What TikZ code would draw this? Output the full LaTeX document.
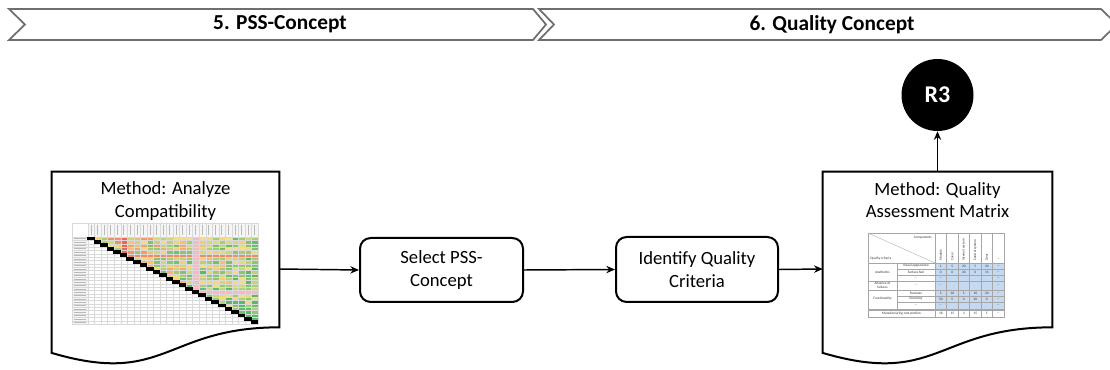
\documentclass[tikz,border=0pt]{standalone}
\usepackage{fontspec}
\setmainfont{Carlito}
\usetikzlibrary{calc,arrows.meta}
\definecolor{hmG}{RGB}{90,185,110}
\definecolor{hmY}{RGB}{250,225,120}
\definecolor{hmR}{RGB}{238,100,90}
\definecolor{hmP}{RGB}{244,185,196}
\definecolor{tblue}{RGB}{197,217,241}
\definecolor{chev}{RGB}{110,110,110}
\begin{document}
\begin{tikzpicture}[x=0.75pt,y=-0.75pt,
  chevron/.style={draw=chev,line width=1.3pt,fill=white,line join=miter},
  chevlabel/.style={font=\bfseries\fontsize{16}{19}\selectfont},
  docline/.style={draw=black,line width=1.5pt,fill=white,line join=miter},
  doctitle/.style={align=center,font=\fontsize{14}{17}\selectfont},
  stepbox/.style={draw,line width=1.5pt,rounded corners=8pt,align=center,
    font=\fontsize{14}{17}\selectfont,inner sep=0pt},
  arr/.style={line width=1.1pt,-{Stealth[length=6.5pt,width=5.5pt]}},
  tline/.style={draw=gray!70,line width=0.25pt},
  ttxt/.style={font=\fontsize{2.6}{3}\selectfont,inner sep=0pt,text=black!80},
  gridl/.style={draw=gray!30,line width=0.2pt}]
\useasboundingbox (0,0) rectangle (1110,370);

% ---------- chevrons ----------
\draw[chevron] (9,9) -- (533,9) -- (546,24.5) -- (533,40) -- (9,40) -- (25,24.5) -- cycle;
\draw[chevron] (539,9) -- (1101,9) -- (1117,24.5) -- (1101,40) -- (539,40) -- (554,24.5) -- cycle;
\node[chevlabel] (ph5) at (280,24.5) {5. PSS-Concept};
\node[chevlabel] (ph6) at (832,24.5) {6. Quality Concept};

% ---------- document 1 ----------
\node[minimum width=170.25pt,minimum height=145.5pt,inner sep=0pt] (doc1) at (165.5,269) {};
\path[docline] (doc1.north west) -- (doc1.north east) -- ($(doc1.north east)+(0,155.6)$)
  .. controls ($(doc1.north)+(0,155.6)$) and ($(doc1.north)+(0,214.9)$) .. ($(doc1.north west)+(0,181.2)$) -- cycle;
\node[doctitle] (t1) at (165.5,201) {Method: Analyze\\Compatibility};

% heatmap
\fill[gray!8] (72,223) rectangle (258,237);
\fill[gray!8] (72,237) rectangle (88,324);
\fill[white] (72,223) rectangle (88,237);
\foreach \k in {0,...,25}{
  \draw[gray!55,line width=0.4pt] (91+\k*6.538,225) -- (91+\k*6.538,235.5);
  \draw[gray!55,line width=0.4pt] (73.5,238.7+\k*3.346) -- (86,238.7+\k*3.346);
}
\pgfmathsetseed{5}
\foreach \i in {0,...,25}{
  \foreach \j in {0,...,25}{
    \ifnum\j>\i
      \pgfmathtruncatemacro\v{max(0,min(100,rnd*70+10+1.6*\i+0.9*(\j-\i)))}
      \ifnum\v>50
        \pgfmathtruncatemacro\w{2*(\v-50)}\edef\cc{hmG!\w!hmY}
      \else
        \pgfmathtruncatemacro\w{2*\v}\edef\cc{hmY!\w!hmR}
      \fi
      \ifnum\i=5 \edef\cc{hmR!70!hmY}\fi
      \ifnum\j=5 \edef\cc{hmR}\fi
      \ifnum\j=16 \edef\cc{hmP}\fi
      \ifnum\i=16 \edef\cc{hmP}\fi
      \fill[fill=\cc] (88+\j*6.538,237+\i*3.346) rectangle ++(6.538,3.346);
    \fi
  }
}
\foreach \k in {0,...,26}{
  \draw[gridl] (88+\k*6.538,223) -- (88+\k*6.538,324);
  \draw[gridl] (72,237+\k*3.346) -- (258,237+\k*3.346);
}
\draw[gridl] (72,223) rectangle (258,324);
\foreach \i in {0,...,25}{
  \fill[black] (88+\i*6.538-0.8,237+\i*3.346-0.4) rectangle ++(7.6,3.9);
}

% ---------- process boxes ----------
\node[stepbox,minimum width=122.25pt,minimum height=48pt] (sel) at (441.5,270) {Select PSS-\\Concept};
\node[stepbox,minimum width=121.5pt,minimum height=48.75pt] (idf) at (697,269.5) {Identify Quality\\Criteria};

% ---------- document 2 ----------
\node[minimum width=171.75pt,minimum height=145.5pt,inner sep=0pt] (doc2) at (937.5,269) {};
\path[docline] (doc2.north west) -- (doc2.north east) -- ($(doc2.north east)+(0,155.6)$)
  .. controls ($(doc2.north)+(0,155.6)$) and ($(doc2.north)+(0,214.9)$) .. ($(doc2.north west)+(0,181.2)$) -- cycle;
\node[doctitle] (t2) at (937.5,200) {Method: Quality\\Assessment Matrix};

% quality table
\fill[tblue] (935,263) rectangle (1004,309);
\draw[tline] (868,233) rectangle (1004,317);
\draw[tline] (868,233) -- (935,263);
\draw[tline] (868,263) -- (1004,263);
\foreach \x in {935,946.5,958,969.5,981,992.5}{\draw[tline] (\x,233) -- (\x,317);}
\draw[tline] (897,263) -- (897,309);
\foreach \y in {269,275,296,302}{\draw[tline] (897,\y) -- (1004,\y);}
\foreach \y in {281,290,309,310}{\draw[tline] (868,\y) -- (1004,\y);}
\node[ttxt,anchor=north east] (hc) at (932,236) {Components};
\node[ttxt,anchor=south west] (hq) at (870,260) {Quality criteria};
\foreach \x/\t in {940.75/Module,952.25/Cover,963.75/Internal system,975.25/Control system,986.75/Gear}{
  \node[ttxt,rotate=90,anchor=west] at (\x,261) {\t};}
\node[ttxt] at (998.25,259) {...};
\node[ttxt] (ae) at (882.5,272) {Aesthetics};
\node[ttxt,align=center] (af) at (882.5,285.5) {Absence of\\failures};
\node[ttxt] (fu) at (882.5,299) {Functionality};
\node[ttxt] (va) at (916,266) {Visual appearance};
\node[ttxt] (sf) at (916,272) {Surface feel};
\node[ttxt] at (916,278) {...};
\node[ttxt] at (916,285.5) {...};
\node[ttxt] (fe) at (916,293) {Features};
\node[ttxt] (ec) at (916,299) {Economy};
\node[ttxt] at (916,305.5) {...};
\node[ttxt] (mc) at (901.5,313.5) {Manufacturing cost portion};
\foreach \y/\a/\b/\c/\d/\e in {266/1/5/20/5/20,272/0/0/20/0/15,293/5/10/5/10/20,299/50/5/0/20/0,313.5/18/15/3/15/5}{
  \node[ttxt] at (940.75,\y) {\a};
  \node[ttxt] at (952.25,\y) {\b};
  \node[ttxt] at (963.75,\y) {\c};
  \node[ttxt] at (975.25,\y) {\d};
  \node[ttxt] at (986.75,\y) {\e};
  \node[ttxt] at (998.25,\y) {...};
}
\foreach \y in {278,285.5,305.5}{
  \node[ttxt] at (940.75,\y) {...};
  \node[ttxt] at (998.25,\y) {...};
}

% ---------- R3 ----------
\node[circle,fill=black,minimum size=54pt,inner sep=0pt,text=white,
  font=\bfseries\fontsize{18}{20}\selectfont] (r3) at (937.5,95) {R3};

% ---------- connectors ----------
\draw[arr] (doc1.east) -- (sel.west);
\draw[arr] (sel.east) -- (idf.west);
\draw[arr] (idf.east) -- (doc2.west);
\draw[arr] (doc2.north) -- (r3.south);
\end{tikzpicture}
\end{document}
